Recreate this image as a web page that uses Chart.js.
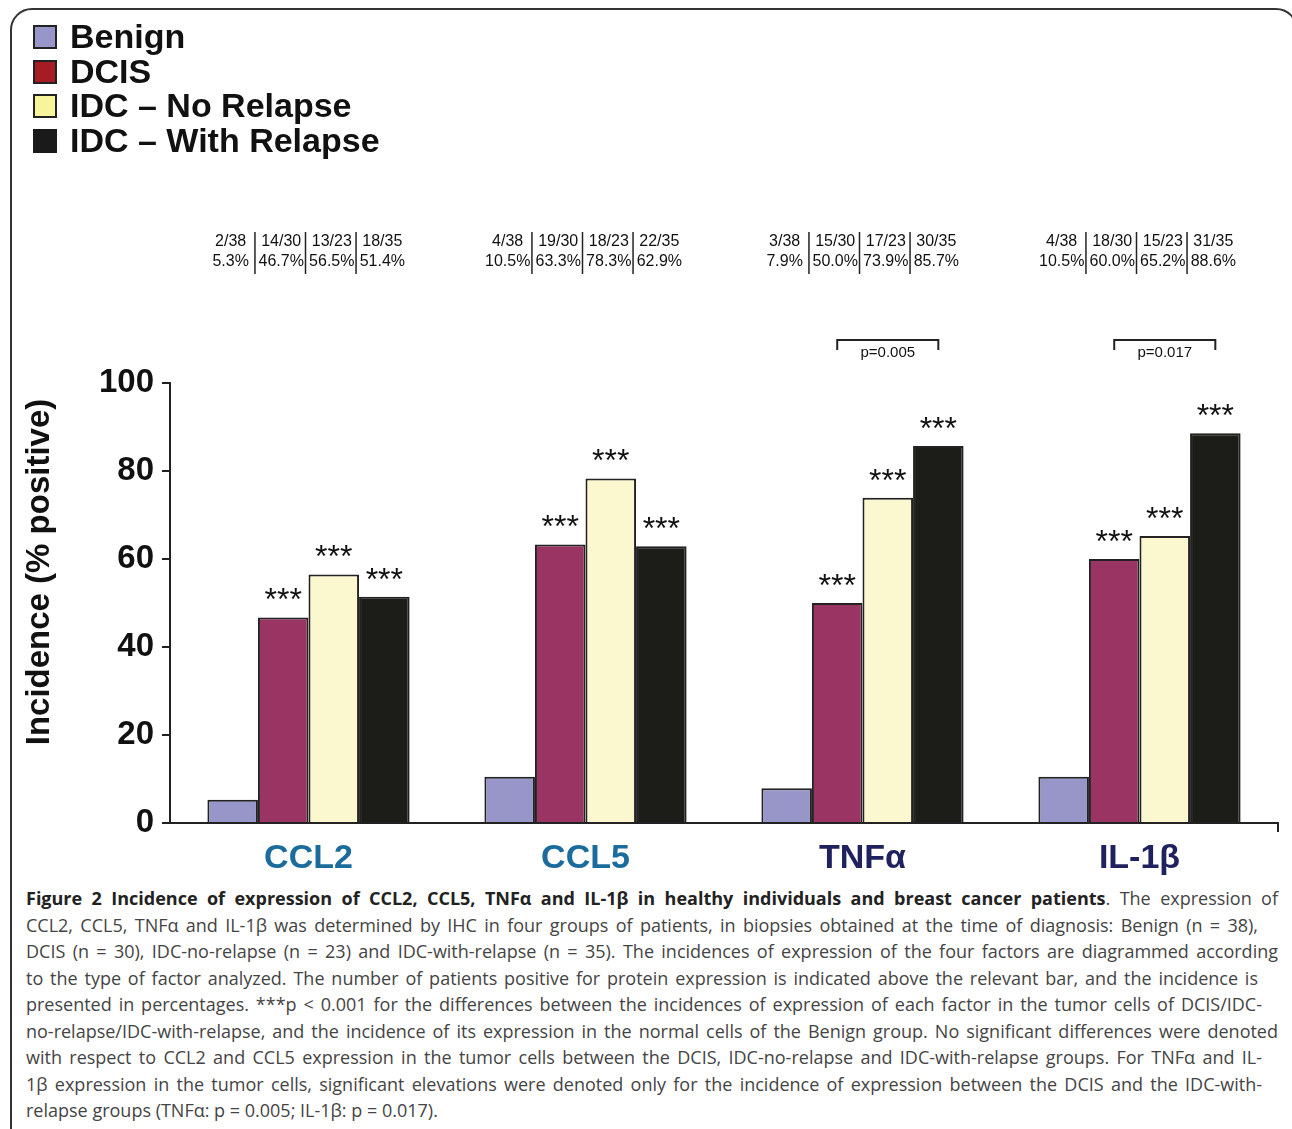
<!DOCTYPE html>
<html>
<head>
<meta charset="utf-8">
<script src="https://cdn.jsdelivr.net/npm/chart.js@4"></script>
<style>
  body { margin: 0; background: #fff; width: 1292px; height: 1129px; overflow: hidden; position: relative; }
  #frame { position: absolute; left: 10px; top: 8px; width: 1288px; height: 1200px; border: 2px solid #333; border-radius: 22px; box-sizing: border-box; }
  #wrap { position: absolute; left: 0; top: 0; width: 1292px; height: 880px; }
  #legend { position: absolute; left: 33px; top: 19px; font: bold 34px "Liberation Sans", Arial, sans-serif; color: #111; }
  #legend div { height: 34.5px; line-height: 34px; white-space: nowrap; }
  #legend span { display: inline-block; width: 24px; height: 24px; box-sizing: border-box; border: 2px solid #222; margin-right: 13px; vertical-align: -1px; }
  #caption { position: absolute; left: 26px; top: 885px; font: 18px "Open Sans", sans-serif; color: #444; }
  #caption div { height: 26.5px; line-height: 26.5px; text-align: justify; text-align-last: justify; white-space: nowrap; }
  #caption div.last { text-align-last: left; }
  #caption b { color: #222; }
</style>
</head>
<body>
<div id="frame"></div>
<div id="wrap"><canvas id="myChart" width="1292" height="880"></canvas></div>
<div id="legend"></div>
<div id="caption">
  <div style="width:1252px"><b>Figure 2 Incidence of expression of CCL2, CCL5, TNFα and IL-1β in healthy individuals and breast cancer patients</b>. The expression of</div>
  <div style="width:1232px">CCL2, CCL5, TNFα and IL-1β was determined by IHC in four groups of patients, in biopsies obtained at the time of diagnosis: Benign (n = 38),</div>
  <div style="width:1252px">DCIS (n = 30), IDC-no-relapse (n = 23) and IDC-with-relapse (n = 35). The incidences of expression of the four factors are diagrammed according</div>
  <div style="width:1232px">to the type of factor analyzed. The number of patients positive for protein expression is indicated above the relevant bar, and the incidence is</div>
  <div style="width:1236px">presented in percentages. ***p &lt; 0.001 for the differences between the incidences of expression of each factor in the tumor cells of DCIS/IDC-</div>
  <div style="width:1252px">no-relapse/IDC-with-relapse, and the incidence of its expression in the normal cells of the Benign group. No significant differences were denoted</div>
  <div style="width:1236px">with respect to CCL2 and CCL5 expression in the tumor cells between the DCIS, IDC-no-relapse and IDC-with-relapse groups. For TNFα and IL-</div>
  <div style="width:1236px">1β expression in the tumor cells, significant elevations were denoted only for the incidence of expression between the DCIS and the IDC-with-</div>
  <div class="last">relapse groups (TNFα: p = 0.005; IL-1β: p = 0.017).</div>
</div>
<script>
factors = ["CCL2", "CCL5", "TNFα", "IL-1β"]
factorColors = ["#1b6c9c", "#1b6c9c", "#20215f", "#20215f"]

groups = ["Benign", "DCIS", "IDC – No Relapse", "IDC – With Relapse"]
groupTotals = [38, 30, 23, 35]

// % positive, one list per group, in factor order
benign = [5.3, 10.5, 7.9, 10.5]
dcis = [46.7, 63.3, 50.0, 60.0]
idcNoRelapse = [56.5, 78.3, 73.9, 65.2]
idcWithRelapse = [51.4, 62.9, 85.7, 88.6]

// number of positive patients
benignPos = [2, 4, 3, 4]
dcisPos = [14, 19, 15, 18]
idcNoRelapsePos = [13, 18, 17, 15]
idcWithRelapsePos = [18, 22, 30, 31]

stars = ["", "***", "***", "***"]
pValues = [null, null, "p=0.005", "p=0.017"]   // DCIS vs IDC-with-relapse

barColors = ["#9896c9", "#9a3463", "#fbf8cf", "#1c1d18"]
legendColors = ["#9896c9", "#a51c24", "#f8f49c", "#1a1a1a"]

values = [benign, dcis, idcNoRelapse, idcWithRelapse]
positives = [benignPos, dcisPos, idcNoRelapsePos, idcWithRelapsePos]

const legend = document.getElementById('legend')
groups.forEach((g, i) => {
    const row = document.createElement('div')
    const sw = document.createElement('span')
    sw.style.background = legendColors[i]
    if (i == 3) sw.style.borderColor = legendColors[i]
    row.appendChild(sw)
    row.appendChild(document.createTextNode(g))
    legend.appendChild(row)
})

dataSets = groups.map((g, i) => ({
    label: g,
    data: values[i],
    backgroundColor: barColors[i],
    borderColor: "#222",
    borderWidth: 2,
    categoryPercentage: 0.73,
    barPercentage: 1.0
}))

const annotate = {
    id: 'annotate',
    afterDatasetsDraw(chart) {
        const ctx = chart.ctx
        const y = chart.scales.y
        const top = y.getPixelForValue(100)
        ctx.save()
        ctx.fillStyle = "#111"
        ctx.strokeStyle = "#222"
        ctx.textAlign = "center"
        for (let f = 0; f < factors.length; f++) {
            for (let g = 0; g < groups.length; g++) {
                const bar = chart.getDatasetMeta(g).data[f]
                // stars
                if (stars[g]) {
                    ctx.font = "32px 'Liberation Sans', Arial"
                    ctx.textBaseline = "top"
                    ctx.fillText(stars[g], bar.x, bar.y - 32)
                }
                // counts and percents
                ctx.font = "16px 'Liberation Sans', Arial"
                ctx.textBaseline = "middle"
                ctx.fillText(positives[g][f] + "/" + groupTotals[g], bar.x - 2, top - 141)
                ctx.fillText(values[g][f].toFixed(1) + "%", bar.x - 2, top - 121)
                if (g < groups.length - 1) {
                    const sx = bar.x + bar.width / 2 - 3
                    ctx.lineWidth = 1.5
                    ctx.beginPath()
                    ctx.moveTo(sx, top - 151)
                    ctx.lineTo(sx, top - 109)
                    ctx.stroke()
                }
            }
            if (pValues[f]) {
                const a = chart.getDatasetMeta(1).data[f]
                const b = chart.getDatasetMeta(3).data[f]
                const by = top - 43
                ctx.lineWidth = 2
                ctx.beginPath()
                ctx.moveTo(a.x, by + 10)
                ctx.lineTo(a.x, by)
                ctx.lineTo(b.x, by)
                ctx.lineTo(b.x, by + 10)
                ctx.stroke()
                ctx.font = "15px 'Liberation Sans', Arial"
                ctx.textBaseline = "middle"
                ctx.fillText(pValues[f], (a.x + b.x) / 2, by + 13)
            }
        }
        // y axis title
        ctx.translate(40, 572)
        ctx.rotate(-Math.PI / 2)
        ctx.font = "bold 33px 'Liberation Sans', Arial"
        ctx.textBaseline = "middle"
        ctx.fillText("Incidence (% positive)", 0, 0)
        ctx.restore()
    }
}

function makeGraph() {
    const ctx = document.getElementById('myChart')
    new Chart(ctx, {
        type: 'bar',
        data: {
            labels: factors,
            datasets: dataSets
        },
        options: {
            responsive: false,
            animation: false,
            layout: {
                padding: { top: 383, right: 14, left: 0, bottom: 0 }
            },
            scales: {
                x: {
                    afterFit: (s) => { s.height = 57 },
                    border: { color: "#222", width: 2 },
                    grid: {
                        offset: true,
                        drawOnChartArea: false,
                        tickLength: 9,
                        lineWidth: 2,
                        color: (c) => c.type == 'scale' ? "#222" : "rgba(0,0,0,0)"
                    },
                    ticks: {
                        padding: 6,
                        color: factorColors,
                        font: { size: 34, weight: 'bold', family: "'Liberation Sans', Arial" }
                    }
                },
                y: {
                    min: 0,
                    max: 100,
                    afterFit: (s) => { s.width = 170 },
                    border: { color: "#222", width: 2 },
                    grid: {
                        drawOnChartArea: false,
                        tickLength: 8,
                        lineWidth: 2,
                        color: "#222"
                    },
                    ticks: {
                        stepSize: 20,
                        padding: 8,
                        color: "#111",
                        font: { size: 33, weight: 'bold', family: "'Liberation Sans', Arial" }
                    }
                }
            },
            plugins: {
                legend: { display: false },
                tooltip: { enabled: false }
            }
        },
        plugins: [annotate]
    })
}

makeGraph()
</script>
</body>
</html>
